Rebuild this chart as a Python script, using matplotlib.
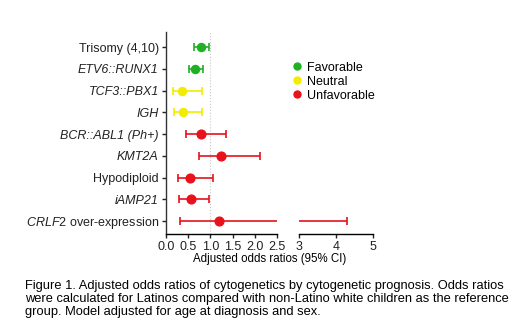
import matplotlib.pyplot as plt
from matplotlib.lines import Line2D

plt.rcParams['font.family'] = ['Liberation Sans', 'DejaVu Sans']
plt.rcParams['mathtext.fontset'] = 'custom'
plt.rcParams['mathtext.it'] = 'Liberation Sans:italic'
plt.rcParams['mathtext.rm'] = 'Liberation Sans'

# cytogenetic groups, top to bottom
labels = ["Trisomy (4,10)", "ETV6::RUNX1", "TCF3::PBX1", "IGH", "BCR::ABL1 (Ph+)",
          "KMT2A", "Hypodiploid", "iAMP21", r"$\mathit{CRLF2}$ over-expression"]
italic = [False, True, True, True, True, True, False, True, False]
prognosis = ["Favorable", "Favorable", "Neutral", "Neutral", "Unfavorable",
             "Unfavorable", "Unfavorable", "Unfavorable", "Unfavorable"]
odds = [0.79, 0.66, 0.37, 0.38, 0.78, 1.24, 0.54, 0.56, 1.20]
ci_low = [0.64, 0.53, 0.16, 0.18, 0.45, 0.74, 0.28, 0.30, 0.32]
ci_high = [0.98, 0.84, 0.82, 0.81, 1.34, 2.11, 1.07, 0.98, 4.30]

colors = {"Favorable": "#1fb024", "Neutral": "#f2ec00", "Unfavorable": "#e8121c"}

fig = plt.figure(figsize=(5.2, 3.27), dpi=100)
axl = fig.add_axes([0.3187, 0.2844, 0.2146, 0.6177])
axr = fig.add_axes([0.5756, 0.2844, 0.1423, 0.6177], sharey=axl)

ypos = list(range(len(labels)))
for ax in (axl, axr):
    for y, o, lo, hi, p in zip(ypos, odds, ci_low, ci_high, prognosis):
        c = colors[p]
        ms = 6.3 if p == "Unfavorable" else 5.8
        ax.errorbar(o, y, xerr=[[o - lo], [hi - o]], fmt='o', color=c, ms=ms,
                    lw=1.2, capsize=2.8, capthick=1.2, clip_on=True)

axl.axvline(1.0, color='#c8c8c8', lw=0.8, ls=':', zorder=0)

axl.set_xlim(0, 2.5)
axr.set_xlim(3, 5)
axl.set_ylim(8.6, -0.7)

axl.set_xticks([0, 0.5, 1.0, 1.5, 2.0, 2.5])
axl.set_xticklabels(["0.0", "0.5", "1.0", "1.5", "2.0", "2.5"])
axr.set_xticks([3, 4, 5])

axl.set_yticks(ypos)
axl.set_yticklabels(labels)
for t, it in zip(axl.get_yticklabels(), italic):
    if it:
        t.set_fontstyle('italic')

for sp in ["top", "right"]:
    axl.spines[sp].set_visible(False)
for sp in ["top", "right", "left"]:
    axr.spines[sp].set_visible(False)
axr.tick_params(axis='y', left=False, labelleft=False)

for ax in (axl, axr):
    ax.spines["bottom"].set_linewidth(1.0)
    ax.spines["left"].set_linewidth(1.0)
    ax.tick_params(axis='both', length=3, width=1.0, pad=2, colors='#222222')
    ax.tick_params(axis='x', labelsize=9.0)
    ax.tick_params(axis='y', labelsize=9.0)
axl.spines["left"].set_color('#333333')

fig.text(0.519, 0.208, "Adjusted odds ratios (95% CI)", ha='center', va='center', fontsize=8.3)

handles = [Line2D([], [], marker='o', ls='none', color=colors[k], ms=5, label=k)
           for k in ["Favorable", "Neutral", "Unfavorable"]]
fig.legend(handles=handles, loc='upper left', bbox_to_anchor=(0.55, 0.83), frameon=False,
           fontsize=9, handlelength=0.8, handletextpad=0.4, labelspacing=0.15, borderpad=0)

caption = ("Figure 1. Adjusted odds ratios of cytogenetics by cytogenetic prognosis. Odds ratios\n"
           "were calculated for Latinos compared with non-Latino white children as the reference\n"
           "group. Model adjusted for age at diagnosis and sex.")
fig.text(0.048, 0.145, caption, ha='left', va='top', fontsize=9.3, linespacing=1.15)

fig.savefig("out.png", dpi=100)
